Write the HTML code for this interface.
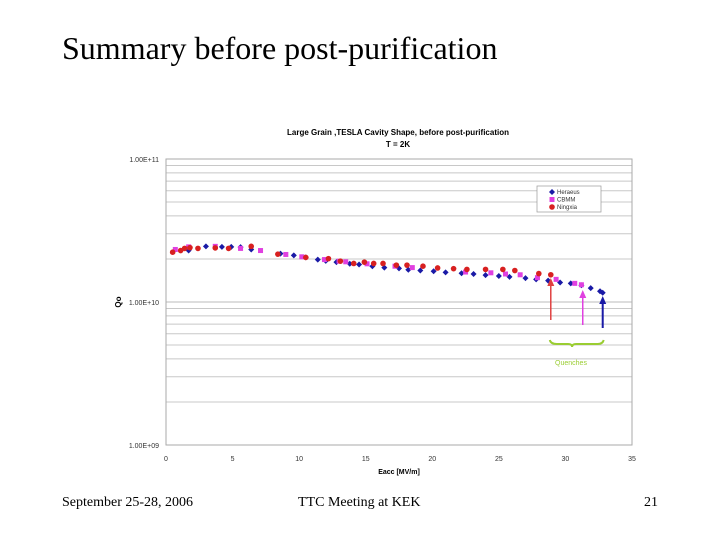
<!DOCTYPE html>
<html><head><meta charset="utf-8"><style>
body{margin:0;background:#fff;}
#root{position:relative;width:720px;height:540px;overflow:hidden;background:#fff;font-family:"Liberation Serif",serif;}
.t{position:absolute;white-space:nowrap;}
</style></head><body>
<div id="root">
<div class="t" style="left:62px;top:30px;font-size:32px;">Summary before post-purification</div>
<svg id="chart" width="720" height="540" style="position:absolute;left:0;top:0" font-family="Liberation Sans, sans-serif"></svg>
<div class="t" style="left:62px;top:495px;font-size:14px;">September 25-28, 2006</div>
<div class="t" style="left:298px;top:495px;font-size:14px;">TTC Meeting at KEK</div>
<div class="t" style="left:644px;top:495px;font-size:14px;">21</div>
</div>
<script>
const xTicks=[0,5,10,15,20,25,30,35];
const yTickLabels=["1.00E+11","1.00E+10","1.00E+09"];
const heraeusE=[1.7,3.0,4.2,4.9,5.6,6.4,8.6,9.6,10.5,11.4,12.0,12.8,13.8,14.5,15.5,16.4,17.5,18.2,19.1,20.1,21.0,22.2,23.1,24.0,25.0,25.8,27.0,27.8,28.7,29.6,30.4,31.2,31.9,32.6,32.8];
const heraeusQ=[2.29e10,2.45e10,2.43e10,2.43e10,2.42e10,2.33e10,2.18e10,2.12e10,2.05e10,1.98e10,1.94e10,1.90e10,1.85e10,1.83e10,1.78e10,1.74e10,1.72e10,1.68e10,1.66e10,1.64e10,1.61e10,1.59e10,1.57e10,1.54e10,1.52e10,1.50e10,1.47e10,1.44e10,1.41e10,1.37e10,1.35e10,1.31e10,1.25e10,1.19e10,1.16e10];
const cbmmE=[0.7,1.7,3.7,5.6,7.1,9.0,10.2,11.9,13.0,13.5,15.1,17.2,18.5,22.5,24.4,25.5,26.6,27.9,29.3,30.7,31.2];
const cbmmQ=[2.33e10,2.43e10,2.45e10,2.37e10,2.29e10,2.15e10,2.07e10,1.98e10,1.93e10,1.91e10,1.85e10,1.78e10,1.74e10,1.62e10,1.60e10,1.57e10,1.55e10,1.48e10,1.44e10,1.35e10,1.32e10];
const ningxiaE=[0.5,1.1,1.4,1.8,2.4,3.7,4.7,6.4,8.4,10.5,12.2,13.1,14.1,14.9,15.6,16.3,17.3,18.1,19.3,20.4,21.6,22.6,24.0,25.3,26.2,28.0,28.9];
const ningxiaQ=[2.23e10,2.29e10,2.37e10,2.40e10,2.37e10,2.39e10,2.37e10,2.45e10,2.16e10,2.05e10,2.01e10,1.93e10,1.86e10,1.90e10,1.86e10,1.86e10,1.81e10,1.81e10,1.78e10,1.73e10,1.71e10,1.69e10,1.69e10,1.69e10,1.66e10,1.58e10,1.55e10];
const quenchE=[28.9,31.3,32.8];

const svg=document.getElementById('chart');
const NS='http://www.w3.org/2000/svg';
const X0=166,X1=632,Y0=159,Y1=445;
function xs(v){return X0+(v-0)/35*(X1-X0);}
function ys(q){return Y0+(11-Math.log10(q))/2*(Y1-Y0);}
function mk(tag,attrs,parent){const e=document.createElementNS(NS,tag);for(const k in attrs)e.setAttribute(k,attrs[k]);(parent||svg).appendChild(e);return e;}
function txt(s,x,y,size,attrs){const e=mk('text',Object.assign({x:x,y:y,'font-size':size},attrs||{}));e.textContent=s;return e;}

for(let d=9;d<=10;d++){for(let m=2;m<=9;m++){const y=ys(m*Math.pow(10,d));
const g=mk('line',{x1:X0,x2:X1,y1:y,y2:y,stroke:'#c8c8c8','stroke-width':1});

}}
for(let i=0;i<3;i++){const y=ys(Math.pow(10,11-i));
const g=mk('line',{x1:X0,x2:X1,y1:y,y2:y,stroke:'#bbbbbb','stroke-width':1});


const l=txt(yTickLabels[i],X0-7,y+3,7,{'text-anchor':'end',fill:'#333'});

}
const frame=mk('rect',{x:X0,y:Y0,width:X1-X0,height:Y1-Y0,fill:'none',stroke:'#aaa'});


xTicks.forEach(v=>{const l=txt(String(v),xs(v),461,7,{'text-anchor':'middle',fill:'#333'});

});
const xt=txt('Eacc [MV/m]',xs(17.5),474,7,{'text-anchor':'middle','font-weight':'bold'});


const yt=txt('Qo',121,302,8,{'text-anchor':'middle','font-weight':'bold',transform:'rotate(-90 121 302)'});


const t1=txt('Large Grain ,TESLA Cavity Shape, before post-purification',398,135,8,{'text-anchor':'middle','font-weight':'bold'});


const t2=txt('T = 2K',398,147,8,{'text-anchor':'middle','font-weight':'bold'});



function diamond(x,y,c){return mk('polygon',{points:`${x},${y-3} ${x+3},${y} ${x},${y+3} ${x-3},${y}`,fill:c});}
function square(x,y,c){return mk('rect',{x:x-2.5,y:y-2.5,width:5,height:5,fill:c});}
function circle(x,y,c){return mk('circle',{cx:x,cy:y,r:2.8,fill:c});}
heraeusE.forEach((e,i)=>{const p=diamond(xs(e),ys(heraeusQ[i]),'#1a1aa6');

});
cbmmE.forEach((e,i)=>{const p=square(xs(e),ys(cbmmQ[i]),'#e040e0');

});
ningxiaE.forEach((e,i)=>{const p=circle(xs(e),ys(ningxiaQ[i]),'#d82020');

});

const arrowCols=['#e04040','#e040e0','#1a1aa6'];
const arrowY=[[280,320],[292,325],[298,328]];
quenchE.forEach((e,i)=>{const x=xs(e);const c=arrowCols[i];
const g=mk('g',{});


mk('line',{x1:x,x2:x,y1:arrowY[i][0]+4,y2:arrowY[i][1],stroke:c,'stroke-width':i==2?2:1.5},g);
mk('polygon',{points:`${x},${arrowY[i][0]-2} ${x+3.5},${arrowY[i][0]+6} ${x-3.5},${arrowY[i][0]+6}`,fill:c},g);});
const br=mk('path',{d:`M${xs(quenchE[0])-1},340 Q${xs(quenchE[0])},344 ${xs(quenchE[0])+6},344 L${xs(30.5)-4},344 Q${xs(30.5)},344 ${xs(30.5)},347 Q${xs(30.5)},344 ${xs(30.5)+4},344 L${xs(quenchE[2])-5},344 Q${xs(quenchE[2])},344 ${xs(quenchE[2])+1},340`,fill:'none',stroke:'#9acd32','stroke-width':2});


const qt=txt('Quenches',571,365,7,{'text-anchor':'middle',fill:'#9acd32'});



const lg=mk('g',{});


mk('rect',{x:537,y:186,width:64,height:26,fill:'#fff',stroke:'#999','stroke-width':0.7},lg);
const names=['Heraeus','CBMM','Ningxia'];
names.forEach((n,i)=>{const y=192+i*7.5;
const le=mk('g',{},lg);


const s=i==0?diamond(552,y,'#1a1aa6'):i==1?square(552,y,'#e040e0'):circle(552,y,'#d82020');
le.appendChild(s);
const t=txt(n,557,y+2.2,6,{fill:'#333'});le.appendChild(t);});
</script>
</body></html>
